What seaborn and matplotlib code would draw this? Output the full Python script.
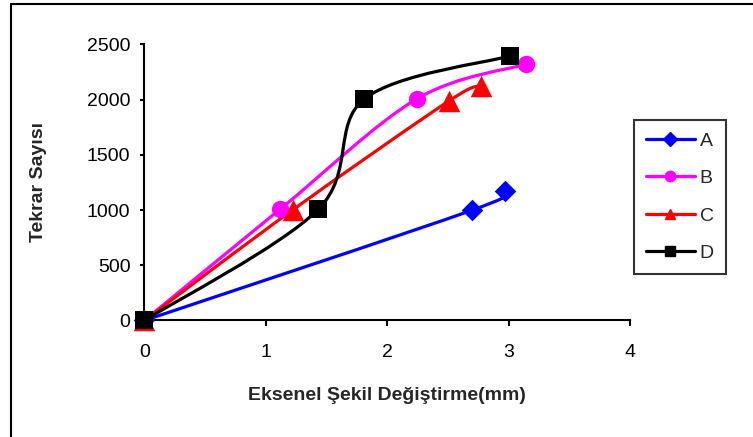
import matplotlib
matplotlib.use("Agg")
import matplotlib.pyplot as plt
from matplotlib.path import Path
from matplotlib.patches import PathPatch
from matplotlib.lines import Line2D
import numpy as np
import seaborn as sns

# values
x_ticks = [0, 1, 2, 3, 4]
y_ticks = [0, 500, 1000, 1500, 2000, 2500]

a_x = [0, 2.70, 2.97]
a_y = [0, 1000, 1175]
b_x = [0, 1.12, 2.24, 3.14]
b_y = [0, 1010, 2005, 2320]
c_x = [0, 1.22, 2.51, 2.77]
c_y = [0, 1000, 1990, 2120]
d_x = [0, 1.43, 1.81, 3.01]
d_y = [0, 1005, 2005, 2395]

series = [
    ("A", a_x, a_y, "#0000FF", "D", 11),
    ("B", b_x, b_y, "#FF00FF", "o", 12.5),
    ("C", c_x, c_y, "#FF0000", "^", 15.5),
    ("D", d_x, d_y, "#000000", "s", 13.5),
]


def smooth_path(xs, ys):
    # Excel-style smoothed line: cubic bezier through the points
    pts = np.column_stack([xs, ys]).astype(float)
    n = len(pts)
    verts = [pts[0]]
    codes = [Path.MOVETO]
    for i in range(n - 1):
        p0 = pts[max(i - 1, 0)]
        p1 = pts[i]
        p2 = pts[i + 1]
        p3 = pts[min(i + 2, n - 1)]
        verts += [p1 + (p2 - p0) / 6, p2 - (p3 - p1) / 6, p2]
        codes += [Path.CURVE4] * 3
    return Path(verts, codes)


sns.set_style("ticks")
plt.rcParams["font.family"] = ["Liberation Sans", "DejaVu Sans"]

fig = plt.figure(figsize=(7.53, 4.37), dpi=100)
ax = fig.add_axes([0.1916, 0.2666, 0.8373 - 0.1916, 0.8986 - 0.2666])

handles = []
for name, xs, ys, color, marker, ms in series:
    ax.add_patch(PathPatch(smooth_path(xs, ys), fill=False, edgecolor=color,
                           lw=2.3, clip_on=False, joinstyle="round"))
    sns.scatterplot(x=xs, y=ys, color=color, marker=marker, s=ms ** 2,
                    edgecolor=color, linewidth=0, ax=ax, clip_on=False,
                    legend=False, zorder=3)
    handles.append(Line2D([], [], color=color, lw=2.3, marker=marker,
                          markersize=7.5, label=name))

ax.set_xlim(0, 4)
ax.set_ylim(0, 2500)
ax.set_xticks(x_ticks)
ax.set_yticks(y_ticks)
ax.set_xticklabels([str(v) for v in x_ticks])
ax.set_yticklabels([str(v) for v in y_ticks])
sns.despine(ax=ax)
for side in ["left", "bottom"]:
    ax.spines[side].set_linewidth(1.5)
    ax.spines[side].set_color("black")
ax.tick_params(axis="both", direction="out", width=1.5, color="black",
               labelsize=14, labelcolor="black")
ax.tick_params(axis="x", length=4, pad=13)
ax.tick_params(axis="y", length=3, pad=7)

ax.set_xlabel("Eksenel Şekil Değiştirme(mm)", fontsize=14, fontweight="bold",
              labelpad=19)
ax.set_ylabel("Tekrar Sayısı", fontsize=14, fontweight="bold", labelpad=29)

leg = fig.legend(handles=handles, loc="upper left",
                 bbox_to_anchor=(634 / 753, 1 - 120 / 437), fontsize=14,
                 frameon=True, fancybox=False, shadow=False,
                 handlelength=2.5, handletextpad=0.25, labelspacing=1.02,
                 borderpad=0.62, borderaxespad=0)
leg.get_frame().set_edgecolor("black")
leg.get_frame().set_linewidth(1.5)

# outer chart-area border (left and top edges visible)
fig.add_artist(Line2D([11 / 753, 11 / 753], [0, 1 - 4 / 437],
                      transform=fig.transFigure, color="black", lw=1.5))
fig.add_artist(Line2D([11 / 753, 1], [1 - 4 / 437, 1 - 4 / 437],
                      transform=fig.transFigure, color="black", lw=1.5))

fig.savefig("out.png", dpi=100)
